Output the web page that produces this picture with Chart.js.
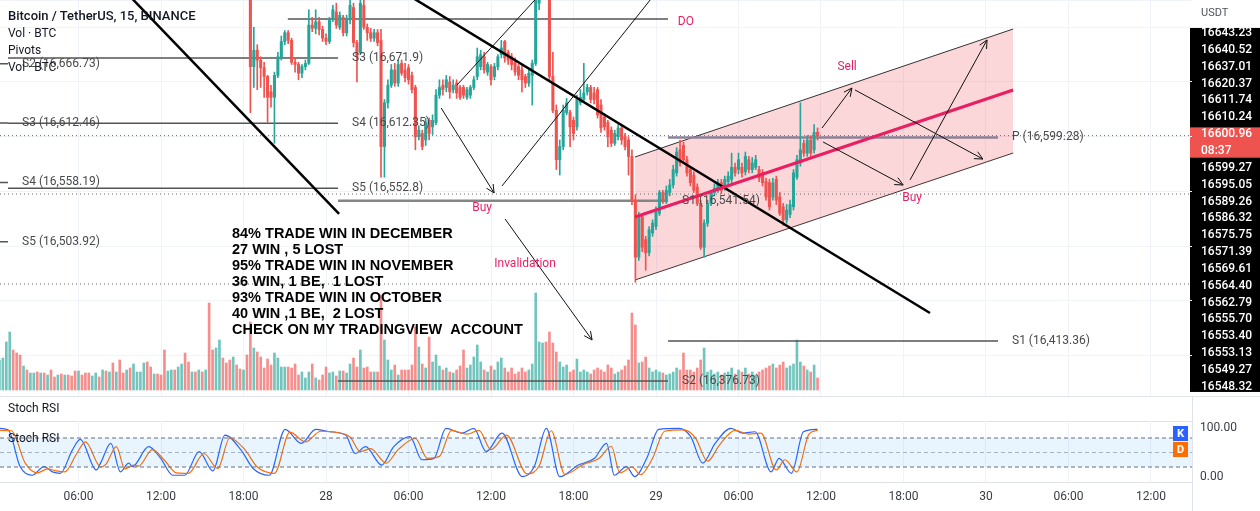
<!DOCTYPE html>
<html>
<head>
<meta charset="utf-8">
<script src="https://cdn.jsdelivr.net/npm/chart.js@4.4.1/dist/chart.umd.min.js"></script>
<style>
  html, body { margin: 0; padding: 0; background: #fff; }
  #wrap { position: relative; width: 1260px; height: 511px; overflow: hidden; font-family: Roboto, 'Liberation Sans', Arial, sans-serif; }
  #mainBox { position: absolute; left: 0; top: 0; width: 1260px; height: 396px; }
  #rsiBox { position: absolute; left: 0; top: 396px; width: 1260px; height: 115px; }
  .lbl { position: absolute; left: 8px; font-size: 12px; line-height: 17px; color: #131722; white-space: nowrap; }
  .tag { position: absolute; left: 1173px; width: 15px; height: 15px; color: #fff; font: bold 11px Roboto, sans-serif; text-align: center; line-height: 15px; }
</style>
</head>
<body>
<div id="wrap">
  <div id="mainBox"><canvas id="mainChart"></canvas></div>
  <div id="rsiBox"><canvas id="rsiChart"></canvas></div>
  <div class="lbl" style="top:7px;font-size:13px;font-weight:500">Bitcoin / TetherUS, 15, BINANCE</div>
  <div class="lbl" style="top:25px">Vol · BTC</div>
  <div class="lbl" style="top:42px">Pivots</div>
  <div class="lbl" style="top:59px">Vol · BTC</div>
  <div class="lbl" style="top:400px">Stoch RSI</div>
  <div class="lbl" style="top:430px">Stoch RSI</div>
  <div class="tag" style="top:426px;background:#2962ff">K</div>
  <div class="tag" style="top:442px;background:#ff6d00">D</div>
</div>
<script>
// time axis: index = number of 15 min bars since 27 Dec 00:00
const timeTickIdx = [24, 48, 72, 96, 120, 144, 168, 192, 216, 240, 264, 288, 312, 336];
const timeLabels = ['06:00', '12:00', '18:00', '28', '06:00', '12:00', '18:00', '29', '06:00', '12:00', '18:00', '30', '06:00', '12:00'];

// price tags stacked on the right scale
const priceTags = ['16643.23', '16640.52', '16637.01', '16620.37', '16611.74', '16610.24', '16600.96', '08:37',
  '16599.27', '16595.05', '16589.26', '16586.32', '16575.75', '16571.39', '16569.61', '16564.40',
  '16562.79', '16555.70', '16553.40', '16553.13', '16549.27', '16548.32'];

// candles (bars before firstCandle sit above the visible range)
const firstCandle = 74;
const candleOpen = [
  16739,16664,16679,16670,16663,16655,16641,16636,16656,16673,
  16687,16695,16688,16668,16666,16658,16664,16667,16702,16699,
  16705,16698,16690,16687,16707,16714,16700,16709,16695,16707,
  16718,16686,16677,16720,16700,16695,16690,16695,16688,16591,
  16631,16647,16661,16649,16667,16661,16663,16656,16645,16600,
  16603,16597,16615,16609,16613,16638,16647,16645,16650,16643,
  16649,16645,16645,16636,16638,16645,16655,16664,16673,16659,
  16664,16655,16664,16675,16687,16677,16673,16668,16664,16661,
  16655,16649,16656,16667,16722,16732,16739,16732,16655,16624,
  16579,16591,16622,16622,16615,16609,16631,16634,16641,16645,
  16640,16643,16629,16618,16613,16606,16594,16600,16608,16600,
  16597,16582,16542,16490,16527,16506,16494,16512,16518,16530,
  16549,16542,16549,16556,16567,16588,16592,16579,16570,16565,
  16554,16539,16499,16521,16539,16549,16551,16558,16554,16559,
  16561,16572,16570,16572,16568,16579,16570,16572,16570,16567,
  16559,16558,16545,16561,16545,16536,16524,16529,16536,16563,
  16576,16594,16585,16597,16588,16604];
const candleHigh = [
  16752,16700,16684,16673,16668,16656,16647,16659,16677,16692,
  16697,16697,16690,16672,16668,16666,16670,16716,16709,16716,
  16709,16701,16694,16709,16720,16722,16714,16711,16711,16725,
  16722,16688,16730,16728,16703,16699,16698,16698,16698,16634,
  16652,16666,16667,16670,16670,16667,16666,16659,16647,16610,
  16606,16617,16617,16620,16643,16652,16652,16656,16655,16652,
  16652,16647,16647,16645,16647,16655,16681,16679,16677,16668,
  16666,16667,16675,16688,16688,16679,16676,16672,16666,16665,
  16657,16661,16670,16739,16743,16748,16752,16736,16677,16629,
  16597,16629,16635,16624,16618,16638,16643,16667,16648,16647,
  16645,16645,16634,16621,16615,16609,16606,16611,16611,16603,
  16600,16588,16547,16531,16529,16509,16518,16524,16536,16551,
  16551,16555,16561,16574,16590,16597,16595,16582,16572,16568,
  16557,16542,16524,16542,16551,16557,16561,16561,16564,16568,
  16585,16576,16585,16576,16586,16582,16581,16583,16573,16570,
  16562,16561,16562,16564,16549,16539,16538,16542,16570,16583,
  16631,16597,16601,16601,16611,16608];
const candleLow = [
  16622,16645,16643,16645,16636,16613,16627,16594,16654,16670,
  16684,16685,16666,16659,16652,16654,16661,16666,16696,16694,
  16693,16687,16684,16685,16705,16699,16698,16692,16692,16703,
  16682,16650,16675,16698,16688,16687,16687,16683,16563,16563,
  16626,16645,16646,16646,16656,16650,16648,16640,16588,16597,
  16588,16592,16597,16602,16611,16635,16638,16641,16635,16640,
  16635,16634,16635,16634,16635,16643,16652,16661,16658,16656,
  16647,16652,16661,16672,16668,16666,16661,16656,16652,16641,
  16645,16646,16629,16665,16716,16728,16730,16652,16622,16570,
  16565,16588,16620,16591,16597,16606,16629,16632,16638,16631,
  16630,16617,16604,16606,16591,16591,16592,16597,16593,16588,
  16565,16538,16467,16487,16495,16478,16491,16509,16515,16528,
  16539,16539,16546,16553,16564,16573,16576,16564,16555,16549,
  16537,16497,16490,16518,16537,16546,16549,16548,16551,16556,
  16558,16564,16566,16563,16565,16567,16567,16570,16559,16555,
  16542,16533,16542,16538,16528,16519,16521,16526,16533,16561,
  16573,16582,16582,16582,16585,16597];
const candleClose = [
  16664,16679,16670,16663,16655,16636,16636,16656,16673,16687,
  16695,16688,16668,16666,16658,16664,16667,16702,16699,16705,
  16698,16690,16687,16707,16716,16702,16711,16695,16707,16720,
  16686,16673,16722,16700,16695,16690,16695,16686,16591,16631,
  16647,16661,16649,16666,16658,16654,16652,16643,16600,16606,
  16591,16613,16603,16615,16638,16645,16643,16652,16641,16647,
  16640,16636,16638,16643,16645,16652,16673,16675,16661,16666,
  16652,16664,16673,16681,16672,16670,16666,16659,16656,16652,
  16649,16658,16667,16725,16732,16739,16732,16655,16624,16579,
  16591,16624,16631,16609,16603,16634,16636,16640,16645,16634,
  16634,16620,16608,16609,16600,16594,16603,16608,16597,16591,
  16582,16542,16490,16527,16499,16494,16515,16521,16533,16549,
  16542,16551,16556,16570,16586,16576,16579,16567,16558,16551,
  16539,16499,16521,16539,16549,16553,16558,16551,16561,16564,
  16572,16567,16579,16567,16582,16570,16576,16579,16562,16558,
  16545,16536,16558,16542,16530,16524,16533,16538,16567,16579,
  16588,16585,16597,16585,16604,16600.96];

// volume (BTC) for every bar, direction of the bars before firstCandle
const volume = [
  1120,1200,1280,1920,2320,1600,1480,1400,960,800,
  680,680,720,680,680,600,800,520,600,640,
  600,600,560,760,760,600,680,680,560,680,
  520,800,760,720,1080,720,1200,680,800,880,
  1040,720,720,1080,1120,920,640,640,600,1600,
  760,800,800,920,1040,1480,1120,720,720,800,
  720,800,3480,1600,1680,2000,1280,1080,1200,1320,
  1000,840,800,1400,2720,1680,1520,1320,880,1240,
  1000,1480,1280,920,920,920,880,1040,600,720,
  480,720,1040,480,400,600,920,680,720,560,
  760,760,680,1040,1280,920,1600,880,920,720,
  720,720,3800,2000,1200,800,1000,600,800,800,
  800,1000,2520,1720,1040,880,2120,1120,1400,960,
  800,880,720,680,800,960,1600,880,1000,1320,
  1800,1120,800,720,960,800,1120,1280,880,720,
  880,640,720,880,720,800,1040,3880,1920,1880,
  1920,2320,1880,1520,1120,920,1000,720,800,1240,
  720,800,720,640,800,880,800,720,1000,880,
  640,720,800,960,1200,3080,2600,1080,1120,1320,
  880,720,800,720,680,600,640,720,880,800,
  1480,800,800,720,880,1200,1680,720,800,640,
  720,600,680,720,880,640,800,720,880,640,
  720,600,720,800,880,960,1040,880,1000,1120,
  880,960,1040,2000,1120,960,800,720,1000,480];
const earlyVolDir = 'gggggrrrgrggrgrgrrgrgrrrgrrrggrgrgrgrrgrggggrrgrrrggrggrrgrgrgrrggrrrgrrgr';

// Stoch RSI turning points
const stochKIdx = [0,3.5,7,10.5,14,16.4,18.7,22.2,24.5,29.2,30.4,33.4,36.2,38.6,39.7,44.4,47.9,51.4,54.9,59.1,
  63.1,66.6,71.3,74.8,79.5,84.1,88.8,93,97,101.7,104.5,107.5,112.2,115.7,120.4,123.9,127.4,130.9,135.5,139,
  142.6,147.2,153.1,156.6,160.1,164,169.4,174.1,177.6,179.9,183.4,185.8,189.3,192.8,198.6,202.1,205.6,209.2,213.8,217.3,
  220.8,225.5,227.8,231.4,234.9,239];
const stochK = [100,97,21,3,21,10,7,55,77,14,28,69,10,28,21,62,38,3,3,52,
  12,86,55,17,3,98,69,98,93,86,48,62,24,62,83,35,38,100,90,100,
  52,90,0,21,100,0,24,38,69,3,21,0,38,98,100,83,28,69,100,90,
  93,10,38,7,93,98];
const stochDIdx = [0,4.5,8.5,12,15,17.5,20,23.5,26,30.5,32,35,37.5,40,41.5,45.5,49,52.5,56,60.5,
  64.5,68,72.5,76,81,85.5,90,94.5,98.5,103,106,109,113.5,117,122,125.5,129,132.5,137,140.5,
  144,148.5,154.5,158,161.5,165.5,171,175.5,179,181.5,185,187.5,191,194.5,200,203.5,207,210.5,215,219,
  222.5,227,229.5,233,236.5,239];
const stochD = [96,95,28,8,16,12,10,48,72,20,26,62,16,24,22,56,34,8,7,48,
  17,80,55,20,7,92,72,94,92,82,52,58,28,56,79,38,42,96,88,96,
  56,86,6,22,95,5,26,38,63,8,20,4,38,94,97,80,32,66,96,88,
  90,14,35,10,88,96];
const stochBands = [80, 50, 20];

// daily pivots: period edges in bar index, each level belongs to one period
const periodEdges = [-92.5, 3.5, 99.5, 195.5, 291.5];
const pivotNames = ['S2', 'S3', 'S4', 'S5', 'S3', 'S4', 'S5', 'S1', 'S2', 'P', 'S1'];
const pivotValues = [16666.73, 16612.46, 16558.19, 16503.92, 16671.9, 16612.35, 16552.8, 16541.54, 16376.73, 16599.28, 16413.36];
const pivotPeriod = [0, 0, 0, 0, 1, 1, 1, 2, 2, 3, 3];

// drawings, in [bar index, price]
const doLine = [84.9, 195.5, 16707.5];
const priceLines = [16600.96, 16547.6, 16465.4];
const trendLines = [[37.2, 16734, 99.8, 16529.4], [117.5, 16734, 271.7, 16438.9]];
const channelTop = [185.9, 16581.5, 295.9, 16698.4];
const channelMid = [185.9, 16526.6, 295.9, 16642.7];
const channelBottom = [185.9, 16469.1, 295.9, 16585.1];
const plainLines = [[134.1, 16647.2, 159.4, 16734], [147.2, 16555.0, 192.6, 16734]];
const arrowLines = [
  [129.5, 16626.2, 144.9, 16548.6],
  [148.1, 16524.8, 173.4, 16414.3],
  [240.3, 16607.9, 249.0, 16644.5],
  [249.9, 16642.7, 287.1, 16579.6],
  [240.6, 16595.2, 263.9, 16555.9],
  [265.9, 16560.5, 288.3, 16688.4]];
const noteTexts = ['DO', 'Sell', 'Buy', 'Buy', 'Invalidation'];
const noteAt = [[200.7, 16704.8], [247.6, 16663.7], [141.4, 16534.9], [266.5, 16544.0], [153.9, 16483.7]];
const statsLines = ['84% TRADE WIN IN DECEMBER', '27 WIN , 5 LOST', '95% TRADE WIN IN NOVEMBER', '36 WIN, 1 BE,  1 LOST',
  '93% TRADE WIN IN OCTOBER', '40 WIN ,1 BE,  2 LOST', 'CHECK ON MY TRADINGVIEW  ACCOUNT'];
const statsAt = [68.65, 16511.1];

// view
const xMin = 1.16, xMax = 347.93;
const priceMin = 16363.1, priceMax = 16724.9;
const gridColor = '#f0f3fa';
const upColor = '#26a69a', downColor = '#ef5350';
const pink = '#e91e63';

Chart.defaults.font.family = "Roboto, 'Liberation Sans', Arial, sans-serif";

const candleIdx = candleOpen.map((_, k) => firstCandle + k);
const candleUp = candleOpen.map((o, k) => candleClose[k] >= o);

function seg(pts, color, width, extra) {
  return Object.assign({
    type: 'line',
    data: [{ x: pts[0], y: pts[1] }, { x: pts[2], y: pts[3] }],
    borderColor: color, borderWidth: width, pointRadius: 0, fill: false,
    xAxisID: 'x', yAxisID: 'y', order: 2
  }, extra || {});
}

const datasets = [];

// channel fill first so it sits behind
datasets.push(seg(channelTop, '#333', 1, { fill: '+1', backgroundColor: 'rgba(242,54,69,0.2)', order: 10 }));
datasets.push(seg(channelBottom, '#333', 1, { order: 10 }));

datasets.push({
  type: 'bar', yAxisID: 'yVol', order: 9, grouped: false, barThickness: 2,
  data: volume.map((v, i) => ({ x: i, y: v })),
  backgroundColor: volume.map((v, i) => {
    const up = i < firstCandle ? earlyVolDir[i] === 'g' : candleUp[i - firstCandle];
    return up ? 'rgba(38,166,154,0.65)' : 'rgba(239,83,80,0.65)';
  })
});

pivotValues.forEach((v, k) => {
  const p = pivotPeriod[k];
  const thick = (p === 2 && pivotNames[k] === 'S1') || pivotNames[k] === 'P';
  datasets.push(seg([periodEdges[p], v, periodEdges[p + 1], v],
    pivotNames[k] === 'P' ? '#8d8198' : (thick ? '#858585' : '#555'), thick ? 2.5 : 1.5, { order: 8 }));
});
datasets.push(seg([doLine[0], doLine[2], doLine[1], doLine[2]], '#555', 1.5, { order: 8 }));
priceLines.forEach(v => {
  datasets.push(seg([xMin, v, xMax, v], '#666', 1, { borderDash: [1, 3], order: 8 }));
});

datasets.push({
  type: 'bar', order: 4, grouped: false, barThickness: 1,
  data: candleIdx.map((x, k) => ({ x: x, y: [candleLow[k], candleHigh[k]] })),
  backgroundColor: candleUp.map(u => u ? upColor : downColor)
});
datasets.push({
  type: 'bar', order: 3, grouped: false, barThickness: 2.4,
  data: candleIdx.map((x, k) => ({ x: x, y: [candleOpen[k], candleClose[k]] })),
  backgroundColor: candleUp.map(u => u ? upColor : downColor)
});

datasets.push(seg(channelMid, pink, 3, { order: 2 }));
trendLines.forEach(t => datasets.push(seg(t, '#000', 2.5, { order: 2 })));
plainLines.forEach(t => datasets.push(seg(t, '#111', 1, { order: 1 })));
arrowLines.forEach(t => datasets.push(seg(t, '#111', 1, { order: 1, arrowHead: true })));

const mainDecor = {
  id: 'mainDecor',
  beforeDraw(chart) {
    const { ctx } = chart;
    const t = chart.scales.tags;
    ctx.save();
    ctx.fillStyle = '#fff';
    ctx.fillRect(0, 0, chart.width, chart.height);
    const top = t.getPixelForValue(-0.3), bot = t.getPixelForValue(21.3);
    ctx.fillStyle = '#000';
    ctx.fillRect(t.left - 2, top, chart.width - t.left + 2, bot - top);
    const r1 = t.getPixelForValue(5.6), r2 = t.getPixelForValue(7.4);
    ctx.fillStyle = '#ef5350';
    ctx.fillRect(t.left - 2, r1, chart.width - t.left + 2, r2 - r1);
    ctx.fillStyle = '#50535e';
    ctx.font = '11px Roboto';
    ctx.textBaseline = 'middle';
    ctx.fillText('USDT', t.left + 9, 13);
    // stacked price tags, placed by the tags scale
    ctx.fillStyle = '#fff';
    ctx.font = '500 12px Roboto';
    priceTags.forEach((txt, k) => ctx.fillText(txt, t.left + 9, t.getPixelForValue(k)));
    ctx.restore();
  },
  afterDatasetsDraw(chart) {
    const { ctx } = chart;
    const xs = chart.scales.x, ys = chart.scales.y;
    ctx.save();
    // arrow heads
    chart.data.datasets.forEach((ds, i) => {
      if (!ds.arrowHead) return;
      const pts = chart.getDatasetMeta(i).data;
      const a = pts[0], b = pts[1];
      const ang = Math.atan2(b.y - a.y, b.x - a.x);
      ctx.strokeStyle = '#111';
      ctx.lineWidth = 1;
      ctx.beginPath();
      [-0.45, 0.45].forEach(d => {
        ctx.moveTo(b.x, b.y);
        ctx.lineTo(b.x - 9 * Math.cos(ang + d), b.y - 9 * Math.sin(ang + d));
      });
      ctx.stroke();
    });
    // pivot labels
    ctx.font = '12px Roboto';
    ctx.textBaseline = 'middle';
    ctx.textAlign = 'left';
    ctx.fillStyle = '#4a4a4a';
    pivotValues.forEach((v, k) => {
      const px = xs.getPixelForValue(periodEdges[pivotPeriod[k] + 1]) + 14;
      const txt = pivotNames[k] + ' (' + v.toLocaleString('en-US') + ')';
      ctx.fillText(txt, px, ys.getPixelForValue(v));
    });
    // pink notes
    ctx.textAlign = 'center';
    ctx.fillStyle = pink;
    noteTexts.forEach((t, k) => {
      ctx.fillText(t, xs.getPixelForValue(noteAt[k][0]), ys.getPixelForValue(noteAt[k][1]));
    });
    // stats block
    ctx.textAlign = 'left';
    ctx.fillStyle = '#000';
    ctx.font = "bold 14.5px 'Liberation Sans', Arial, sans-serif";
    const sx = xs.getPixelForValue(statsAt[0]), sy = ys.getPixelForValue(statsAt[1]);
    statsLines.forEach((t, k) => ctx.fillText(t, sx, sy + k * 16));
    ctx.restore();
  }
};

new Chart(document.getElementById('mainChart'), {
  type: 'bar',
  data: { datasets: datasets },
  options: {
    responsive: true,
    maintainAspectRatio: false,
    animation: false,
    layout: { padding: 0 },
    plugins: { legend: { display: false }, tooltip: { enabled: false } },
    scales: {
      x: {
        type: 'linear', min: xMin, max: xMax, offset: false,
        afterBuildTicks: s => { s.ticks = timeTickIdx.map(v => ({ value: v })); },
        ticks: { display: false },
        grid: { color: gridColor, drawTicks: false, offset: false },
        border: { display: false },
        afterFit: s => { s.height = 0; }
      },
      y: {
        position: 'right', min: priceMin, max: priceMax,
        ticks: { display: false, stepSize: 50 },
        grid: { color: gridColor, drawTicks: false },
        border: { display: false },
        afterFit: s => { s.width = 0; }
      },
      yVol: { display: false, min: -240, max: 15600 },
      tags: {
        position: 'right', reverse: true, min: -1.958, max: 21.54,
        ticks: { display: false },
        grid: { display: false, drawTicks: false },
        border: { display: false },
        afterFit: s => { s.width = 68; }
      }
    }
  },
  plugins: [mainDecor]
});

// Stoch RSI pane
const rsiDecor = {
  id: 'rsiDecor',
  beforeDraw(chart) {
    const { ctx, chartArea } = chart;
    ctx.save();
    ctx.fillStyle = '#fff';
    ctx.fillRect(0, 0, chart.width, chart.height);
    ctx.strokeStyle = '#e0e3eb';
    ctx.lineWidth = 1;
    ctx.beginPath();
    ctx.moveTo(0, 0.5); ctx.lineTo(chart.width, 0.5);
    ctx.moveTo(0, chartArea.top + 0.5); ctx.lineTo(chartArea.right, chartArea.top + 0.5);
    ctx.moveTo(0, chartArea.bottom + 0.5); ctx.lineTo(chartArea.right, chartArea.bottom + 0.5);
    ctx.moveTo(chartArea.right + 0.5, 0); ctx.lineTo(chartArea.right + 0.5, chart.height);
    ctx.stroke();
    ctx.restore();
  }
};

function bandLine(v, color, extra) {
  return Object.assign({
    data: [{ x: xMin, y: v }, { x: xMax, y: v }],
    borderColor: color, borderWidth: 1, borderDash: [4, 3], pointRadius: 0, fill: false
  }, extra || {});
}

new Chart(document.getElementById('rsiChart'), {
  type: 'line',
  data: {
    datasets: [
      bandLine(stochBands[0], '#6a6d78', { fill: '+1', backgroundColor: 'rgba(33,150,243,0.1)' }),
      bandLine(stochBands[2], '#6a6d78'),
      bandLine(stochBands[1], 'rgba(120,123,134,0.55)'),
      {
        data: stochDIdx.map((x, k) => ({ x: x, y: stochD[k] })),
        borderColor: '#ff6d00', borderWidth: 1.2, pointRadius: 0, fill: false,
        cubicInterpolationMode: 'monotone'
      },
      {
        data: stochKIdx.map((x, k) => ({ x: x, y: stochK[k] })),
        borderColor: '#2962ff', borderWidth: 1.2, pointRadius: 0, fill: false,
        cubicInterpolationMode: 'monotone'
      }
    ]
  },
  options: {
    responsive: true,
    maintainAspectRatio: false,
    animation: false,
    layout: { padding: { top: 25, left: 0, right: 0, bottom: 0 } },
    plugins: { legend: { display: false }, tooltip: { enabled: false } },
    scales: {
      x: {
        type: 'linear', min: xMin, max: xMax,
        afterBuildTicks: s => { s.ticks = timeTickIdx.map(v => ({ value: v })); },
        ticks: {
          autoSkip: false, maxRotation: 0, padding: 8, color: '#3a3d45',
          font: { size: 12 },
          callback: (v, i) => timeLabels[i]
        },
        grid: { color: gridColor, drawTicks: false },
        border: { display: false },
        afterFit: s => { s.height = 29; }
      },
      y: {
        position: 'right', min: -11, max: 115.2,
        afterBuildTicks: s => { s.ticks = [{ value: 0 }, { value: 100 }]; },
        ticks: { padding: 8, color: '#3a3d45', font: { size: 12 }, callback: v => v.toFixed(2) },
        grid: { display: false, drawTicks: false },
        border: { display: false },
        afterFit: s => { s.width = 68; }
      }
    }
  },
  plugins: [rsiDecor]
});
</script>
</body>
</html>
